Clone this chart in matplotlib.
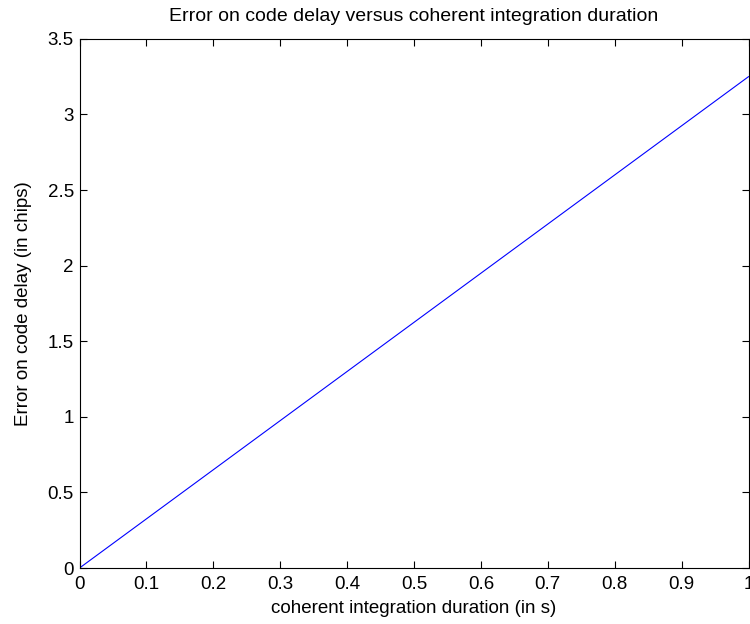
import matplotlib.pyplot as plt

plt.rcParams['font.family'] = ['Liberation Sans', 'DejaVu Sans']

# coherent integration duration (s) and resulting code delay error (chips)
duration = [0.0, 0.25, 0.5, 0.75, 1.0]
code_delay_err = [0.0, 0.8125, 1.625, 2.4375, 3.25]

fs = 13.5

fig = plt.figure(figsize=(7.5, 6.24), dpi=100)
ax = fig.add_axes([0.106, 0.0897, 0.892, 0.848])

ax.plot(duration, code_delay_err, color='#0000ff', linewidth=0.8)

ax.set_xlim(0, 1)
ax.set_ylim(0, 3.5)
ax.set_xticks([0, 0.1, 0.2, 0.3, 0.4, 0.5, 0.6, 0.7, 0.8, 0.9, 1])
ax.set_xticklabels(['0', '0.1', '0.2', '0.3', '0.4', '0.5', '0.6', '0.7', '0.8', '0.9', '1'])
ax.set_yticks([0, 0.5, 1, 1.5, 2, 2.5, 3, 3.5])
ax.set_yticklabels(['0', '0.5', '1', '1.5', '2', '2.5', '3', '3.5'])
ax.tick_params(direction='in', top=True, right=True, labelsize=fs, length=5, width=0.8)
ax.tick_params(axis='x', pad=6)
ax.tick_params(axis='y', pad=4)
for s in ax.spines.values():
    s.set_linewidth(0.8)

ax.set_title('Error on code delay versus coherent integration duration', fontsize=14, pad=13)
ax.set_xlabel('coherent integration duration (in s)', fontsize=fs, labelpad=5)
ax.set_ylabel('Error on code delay (in chips)', fontsize=fs, labelpad=11)

fig.savefig('out.png', dpi=100)
